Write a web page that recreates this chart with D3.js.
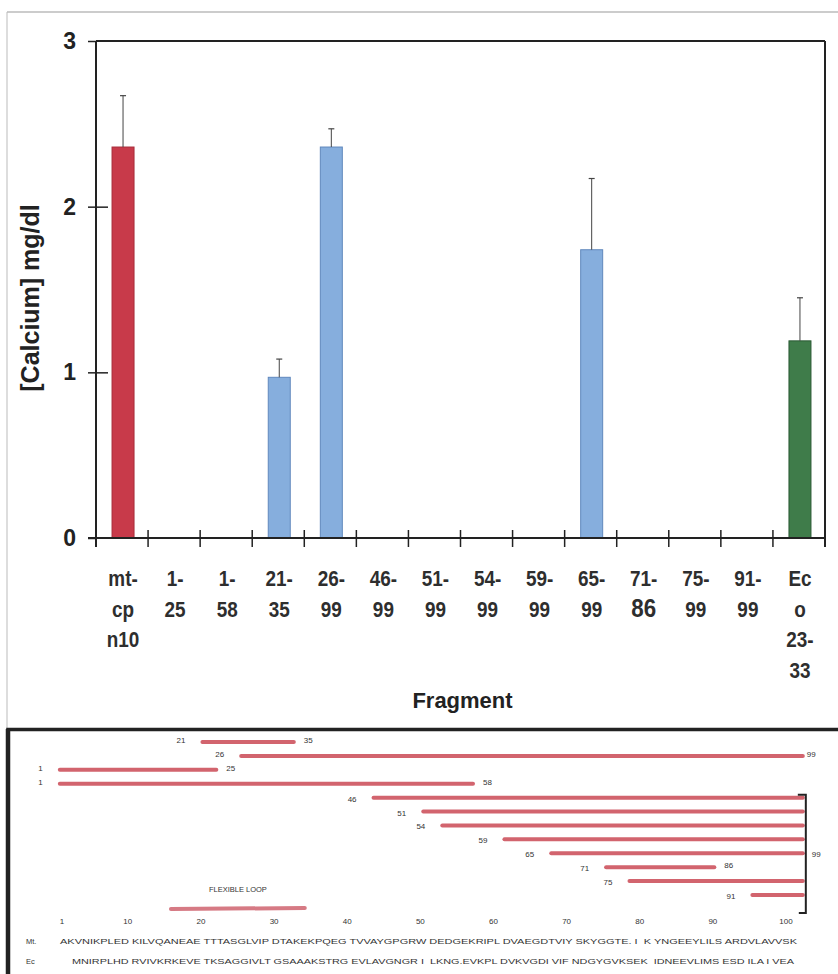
<!DOCTYPE html>
<html><head><meta charset="utf-8">
<script src="https://cdn.jsdelivr.net/npm/d3@7"></script>
<style>
body{margin:0;background:#fff;}
svg{display:block;}
.narrow{font-family:"Liberation Sans Narrow","Arial Narrow","Liberation Sans",Arial,sans-serif;}
.sans{font-family:"Liberation Sans",Arial,sans-serif;}
</style></head>
<body>
<svg id="c" width="838" height="974"></svg>
<script>
// ---- Top chart data ----
const categories = ["mt-cpn10","1-25","1-58","21-35","26-99","46-99","51-99","54-99","59-99","65-99","71-86","75-99","91-99","Eco23-33"];
const categoryLines = [["mt-","cp","n10"],["1-","25"],["1-","58"],["21-","35"],["26-","99"],["46-","99"],["51-","99"],["54-","99"],["59-","99"],["65-","99"],["71-","86"],["75-","99"],["91-","99"],["Ec","o","23-","33"]];
const calcium = [2.36,0,0,0.97,2.36,0,0,0,0,1.74,0,0,0,1.19];
const calciumErr = [0.31,0,0,0.11,0.11,0,0,0,0,0.43,0,0,0,0.26];
const barGroup = ["mt","frag","frag","frag","frag","frag","frag","frag","frag","frag","frag","frag","frag","eco"];
const yTicks = [0,1,2,3];

// ---- Lower panel data ----
const fragStart = [21,26,1,1,46,51,54,59,65,71,75,91];
const fragEnd   = [35,99,25,58,99,99,99,99,99,86,99,99];
// extents of each fragment bar as drawn, in residue units of the position ruler
const fragDrawStart = [20.2,25.5,0.7,0.7,43.6,50.4,53.0,61.5,67.9,75.4,78.6,95.4];
const fragDrawEnd   = [32.7,102.3,22.1,57.2,102.3,102.3,102.3,102.3,102.3,90.2,102.3,102.3];
const showEndLabel  = [true,true,true,true,false,false,false,false,false,true,false,false];
const loopStart = 15.9, loopEnd = 34.2;
const rulerTicks = [1,10,20,30,40,50,60,70,80,90,100];
const seqNames = ["Mt.","Ec"];
const seqs = [
 "AKVNIKPLED KILVQANEAE TTTASGLVIP DTAKEKPQEG TVVAYGPGRW DEDGEKRIPL DVAEGDTVIY SKYGGTE. I  K YNGEEYLILS ARDVLAVVSK",
 "MNIRPLHD RVIVKRKEVE TKSAGGIVLT GSAAAKSTRG EVLAVGNGR I  LKNG.EVKPL DVKVGDI VIF NDGYGVKSEK  IDNEEVLIMS ESD ILA I VEA"
];

const svg = d3.select("#c");

// outer thin frame
svg.append("line").attr("x1",7).attr("x2",838).attr("y1",12).attr("y2",12).attr("stroke","#999").attr("stroke-width",1);
svg.append("line").attr("x1",7).attr("x2",7).attr("y1",12).attr("y2",729).attr("stroke","#bbb").attr("stroke-width",1);

// ---- Top chart ----
const L=96,R=825,T=41,B=538;
const x = d3.scaleBand().domain(categories).range([L,R]).paddingInner(0).paddingOuter(0);
const y = d3.scaleLinear().domain([0,3]).range([B,T]);
const fills = {mt:"#c83a4a",frag:"#86aedd",eco:"#3f7c4a"};
const strokes = {mt:"#a82c3a",frag:"#6088bd",eco:"#2b5a34"};
const bw = 22;

const g = svg.append("g");
// bars
g.selectAll("rect.bar").data(categories.map((c,i)=>({c,v:calcium[i],e:calciumErr[i],grp:barGroup[i]})).filter(d=>d.v>0))
 .join("rect").attr("class","bar")
 .attr("x",d=>x(d.c)+x.bandwidth()/2-bw/2+1).attr("width",bw)
 .attr("y",d=>y(d.v)).attr("height",d=>y(0)-y(d.v))
 .attr("fill",d=>fills[d.grp]).attr("stroke",d=>strokes[d.grp]).attr("stroke-width",1);
// error bars
const eb = g.selectAll("g.err").data(categories.map((c,i)=>({c,v:calcium[i],e:calciumErr[i]})).filter(d=>d.v>0)).join("g");
eb.append("line").attr("x1",d=>x(d.c)+x.bandwidth()/2+1).attr("x2",d=>x(d.c)+x.bandwidth()/2+1)
 .attr("y1",d=>y(d.v)).attr("y2",d=>y(d.v+d.e)).attr("stroke","#444").attr("stroke-width",1);
eb.append("line").attr("x1",d=>x(d.c)+x.bandwidth()/2-2).attr("x2",d=>x(d.c)+x.bandwidth()/2+4)
 .attr("y1",d=>y(d.v+d.e)).attr("y2",d=>y(d.v+d.e)).attr("stroke","#444").attr("stroke-width",1.2);

// frame: top and right
g.append("line").attr("x1",L).attr("x2",R).attr("y1",T).attr("y2",T).attr("stroke","#222").attr("stroke-width",2);
g.append("line").attr("x1",R).attr("x2",R).attr("y1",T).attr("y2",B+9).attr("stroke","#222").attr("stroke-width",2);

// y axis
const yAxis = d3.axisLeft(y).tickValues(yTicks).tickFormat(d3.format("d")).tickSizeInner(8).tickSizeOuter(0).tickPadding(12);
const ya = g.append("g").attr("transform",`translate(${L},0)`).call(yAxis);
ya.select(".domain").attr("stroke","#222").attr("stroke-width",2).attr("d",`M0,${T}V${B+9}`);
ya.selectAll(".tick line").attr("stroke","#222").attr("stroke-width",1.5).attr("x1",d=>(d===0||d===3)?0:12);
ya.selectAll(".tick text").attr("class","sans").attr("font-size",23).attr("font-weight","bold").attr("fill","#222");

// x axis (ticks at category boundaries)
const xa = g.append("g").attr("transform",`translate(0,${B})`);
xa.append("line").attr("x1",L-8).attr("x2",R).attr("y1",0).attr("y2",0).attr("stroke","#222").attr("stroke-width",2);
xa.selectAll("line.tk").data(categories.slice(1)).join("line").attr("class","tk")
 .attr("x1",d=>x(d)).attr("x2",d=>x(d)).attr("y1",-8).attr("y2",9).attr("stroke","#222").attr("stroke-width",1.5);

// x labels (condensed look)
const lab = g.append("g").attr("class","narrow");
categories.forEach((c,i)=>{
  categoryLines[i].forEach((t,j)=>{
    const cx = x(c)+x.bandwidth()/2+1, cy = B+48+j*30.5;
    lab.append("text").attr("transform",`translate(${cx},${cy}) scale(0.86,1)`)
      .attr("text-anchor","middle").attr("font-size",(t==="86")?26:22).attr("font-weight","bold")
      .attr("fill","#2e2e2e").text(t);
  });
});

// axis titles
g.append("text").attr("class","sans").attr("x",(L+R)/2+2).attr("y",708).attr("text-anchor","middle")
 .attr("font-size",22).attr("font-weight","bold").attr("fill","#222").text("Fragment");
g.append("text").attr("class","sans").attr("transform","translate(39,298) rotate(-90)").attr("text-anchor","middle")
 .attr("font-size",25).attr("font-weight","bold").attr("fill","#222").text("[Calcium] mg/dl");

// ---- Lower panel ----
const P = svg.append("g");
P.append("path").attr("d","M8,974V729.5H838").attr("fill","none").attr("stroke","#222").attr("stroke-width",3.5);
P.append("line").attr("x1",8).attr("x2",8).attr("y1",729).attr("y2",974).attr("stroke","#222").attr("stroke-width",4.5);

const rx = d3.scaleLinear().domain([1,100]).range([62,786]);
const ry = d3.scalePoint().domain(d3.range(fragStart.length)).range([742,895]);
const red = "#d2646e";
const rows = d3.range(fragStart.length);
P.selectAll("line.frag").data(rows).join("line").attr("class","frag")
 .attr("x1",i=>rx(fragDrawStart[i])).attr("x2",i=>rx(fragDrawEnd[i]))
 .attr("y1",i=>ry(i)).attr("y2",i=>ry(i)).attr("stroke",red).attr("stroke-width",4).attr("stroke-linecap","round");
P.selectAll("text.fs").data(rows).join("text").attr("class","fs sans")
 .attr("x",i=>rx(fragDrawStart[i])-17).attr("y",i=>ry(i)+(i>=4?4:1)).attr("text-anchor","end")
 .attr("font-size",8).attr("fill","#333").text(i=>fragStart[i]);
P.selectAll("text.fe").data(rows.filter(i=>showEndLabel[i])).join("text").attr("class","fe sans")
 .attr("x",i=>rx(fragDrawEnd[i])+(fragEnd[i]===99?4:10)).attr("y",i=>ry(i)+1)
 .attr("font-size",8).attr("fill","#333").text(i=>fragEnd[i]);

// bracket for the common end 99
const bx = rx(d3.max(fragDrawEnd))+3;
const bTop = ry(4)-3, bBot = ry(11)+18;
P.append("path").attr("d",`M${bx-8},${bTop}H${bx}V${bBot}H${bx-7}`).attr("fill","none").attr("stroke","#222").attr("stroke-width",2);
P.append("text").attr("class","sans").attr("x",bx+6).attr("y",(bTop+bBot)/2+3).attr("font-size",8).attr("fill","#333").text("99");

// flexible loop
P.append("text").attr("class","sans").attr("x",(rx(loopStart)+rx(loopEnd))/2).attr("y",892).attr("text-anchor","middle")
 .attr("font-size",7.5).attr("fill","#333").text("FLEXIBLE LOOP");
P.append("line").attr("x1",rx(loopStart)).attr("x2",rx(loopEnd)).attr("y1",909).attr("y2",908)
 .attr("stroke","#d67a84").attr("stroke-width",4).attr("stroke-linecap","round");

// ruler
P.selectAll("text.rt").data(rulerTicks).join("text").attr("class","rt sans")
 .attr("x",d=>rx(d)).attr("y",924).attr("text-anchor","middle").attr("font-size",8).attr("fill","#333").text(d=>d);

// sequences
const seqX = [[60,797],[72,794]];
seqNames.forEach((n,i)=>{
  P.append("text").attr("class","sans").attr("x",26).attr("y",944+i*20).attr("font-size",7.5).attr("fill","#333").text(n);
  P.append("text").attr("class","sans").attr("x",seqX[i][0]).attr("y",944+i*20).attr("font-size",8)
   .attr("fill","#333").attr("textLength",seqX[i][1]-seqX[i][0]).attr("lengthAdjust","spacingAndGlyphs")
   .attr("xml:space","preserve").style("white-space","pre").text(seqs[i]);
});
</script>
</body></html>
